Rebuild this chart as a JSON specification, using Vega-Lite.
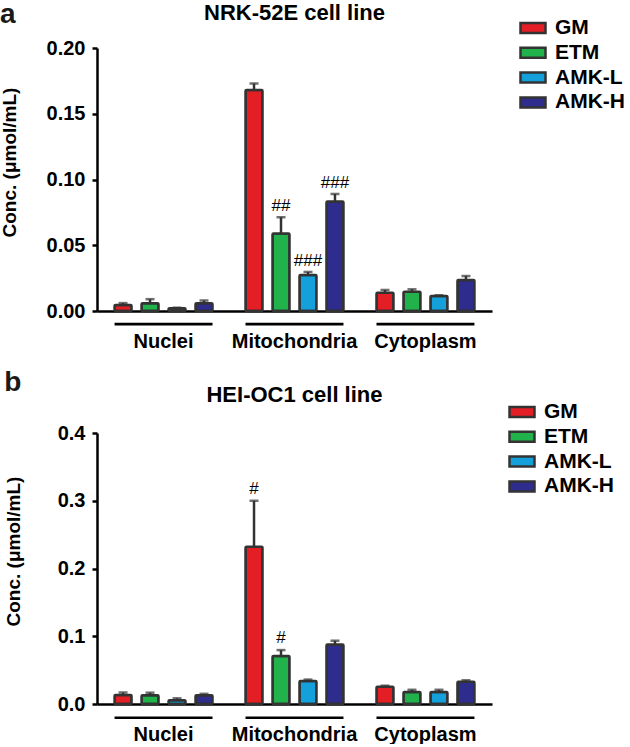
{
  "$schema": "https://vega.github.io/schema/vega-lite/v6.json",
  "padding": {"left": 0, "top": 0, "right": 0, "bottom": 0},
  "config": {"font": "Liberation Sans", "view": {"stroke": null}},
  "datasets": {
    "nrk": [
      {"group": "Nuclei", "treatment": "GM", "mean": 0.0045, "upper": 0.006, "sig": ""},
      {"group": "Nuclei", "treatment": "ETM", "mean": 0.0058, "upper": 0.009, "sig": ""},
      {"group": "Nuclei", "treatment": "AMK-L", "mean": 0.002, "upper": 0.0025, "sig": ""},
      {"group": "Nuclei", "treatment": "AMK-H", "mean": 0.0058, "upper": 0.008, "sig": ""},
      {"group": "Mitochondria", "treatment": "GM", "mean": 0.168, "upper": 0.173, "sig": ""},
      {"group": "Mitochondria", "treatment": "ETM", "mean": 0.059, "upper": 0.0713, "sig": "##"},
      {"group": "Mitochondria", "treatment": "AMK-L", "mean": 0.0274, "upper": 0.0297, "sig": "###"},
      {"group": "Mitochondria", "treatment": "AMK-H", "mean": 0.0832, "upper": 0.089, "sig": "###"},
      {"group": "Cytoplasm", "treatment": "GM", "mean": 0.0139, "upper": 0.016, "sig": ""},
      {"group": "Cytoplasm", "treatment": "ETM", "mean": 0.0147, "upper": 0.0165, "sig": ""},
      {"group": "Cytoplasm", "treatment": "AMK-L", "mean": 0.0114, "upper": 0.012, "sig": ""},
      {"group": "Cytoplasm", "treatment": "AMK-H", "mean": 0.0236, "upper": 0.0266, "sig": ""}
    ],
    "hei": [
      {"group": "Nuclei", "treatment": "GM", "mean": 0.0133, "upper": 0.017, "sig": ""},
      {"group": "Nuclei", "treatment": "ETM", "mean": 0.0128, "upper": 0.0167, "sig": ""},
      {"group": "Nuclei", "treatment": "AMK-L", "mean": 0.0054, "upper": 0.0084, "sig": ""},
      {"group": "Nuclei", "treatment": "AMK-H", "mean": 0.013, "upper": 0.015, "sig": ""},
      {"group": "Mitochondria", "treatment": "GM", "mean": 0.232, "upper": 0.3, "sig": "#"},
      {"group": "Mitochondria", "treatment": "ETM", "mean": 0.0708, "upper": 0.0796, "sig": "#"},
      {"group": "Mitochondria", "treatment": "AMK-L", "mean": 0.034, "upper": 0.036, "sig": ""},
      {"group": "Mitochondria", "treatment": "AMK-H", "mean": 0.088, "upper": 0.0934, "sig": ""},
      {"group": "Cytoplasm", "treatment": "GM", "mean": 0.0256, "upper": 0.027, "sig": ""},
      {"group": "Cytoplasm", "treatment": "ETM", "mean": 0.0177, "upper": 0.021, "sig": ""},
      {"group": "Cytoplasm", "treatment": "AMK-L", "mean": 0.0177, "upper": 0.021, "sig": ""},
      {"group": "Cytoplasm", "treatment": "AMK-H", "mean": 0.033, "upper": 0.035, "sig": ""}
    ],
    "groups": [{"group": "Nuclei"}, {"group": "Mitochondria"}, {"group": "Cytoplasm"}]
  },
  "resolve": {"scale": {"color": "independent", "x": "independent", "y": "independent"}, "legend": {"color": "independent"}},
  "spacing": 18,
  "vconcat": [
    {
      "title": {"text": "a", "anchor": "start", "frame": "bounds", "fontSize": 28, "fontWeight": "bold", "offset": -49, "baseline": "alphabetic", "color": "#1a1a1a"},
      "width": 395,
      "height": 263,
      "data": {"name": "nrk"},
      "encoding": {
        "x": {"field": "group", "type": "nominal", "sort": ["Nuclei", "Mitochondria", "Cytoplasm"],
          "scale": {"paddingInner": 0.252, "paddingOuter": 0.134},
          "axis": {"title": null, "ticks": false, "domainWidth": 2.5, "domainColor": "black", "labelFontSize": 20, "labelFontWeight": "bold", "labelColor": "black", "labelPadding": 20, "labelAngle": 0}}
      },
      "layer": [
        {
          "data": {"name": "groups"},
          "mark": {"type": "bar", "color": "black"},
          "encoding": {"y": {"datum": -0.009, "type": "quantitative"}, "y2": {"datum": -0.011}}
        },
        {
          "mark": {"type": "bar", "stroke": "#333333", "strokeWidth": 2.5, "cornerRadius": 1},
          "encoding": {
            "xOffset": {"field": "treatment", "type": "nominal", "sort": ["GM", "ETM", "AMK-L", "AMK-H"], "scale": {"paddingInner": 0.37, "paddingOuter": 0}},
            "y": {"field": "mean", "type": "quantitative", "scale": {"domain": [0, 0.2], "nice": false},
              "axis": {"title": "Conc. (μmol/mL)", "values": [0, 0.05, 0.1, 0.15, 0.2], "format": ".2f", "grid": false, "domainWidth": 2.5, "domainColor": "black", "tickWidth": 2.5, "tickColor": "black", "tickSize": 5, "labelFontSize": 20, "labelFontWeight": "bold", "labelColor": "black", "labelPadding": 7, "titleFontSize": 19, "titleFontWeight": "bold", "titleColor": "black", "titlePadding": 27, "titleY": 114}},
            "color": {"field": "treatment", "type": "nominal", "sort": ["GM", "ETM", "AMK-L", "AMK-H"],
              "scale": {"domain": ["GM", "ETM", "AMK-L", "AMK-H"], "range": ["#E31E24", "#21B24B", "#13A0DB", "#2E2C8C"]},
              "legend": {"orient": "none", "legendX": 422, "legendY": -34, "title": null, "symbolType": "M-1,-0.4H1V0.4H-1Z", "symbolSize": 625, "symbolStrokeColor": "#333333", "symbolStrokeWidth": 2.5, "labelFontSize": 21, "labelFontWeight": "bold", "labelColor": "black", "labelOffset": 8, "rowPadding": 0.8}}
          }
        },
        {
          "mark": {"type": "rule", "color": "#333333", "strokeWidth": 2.5},
          "encoding": {
            "xOffset": {"field": "treatment", "type": "nominal", "sort": ["GM", "ETM", "AMK-L", "AMK-H"]},
            "y": {"field": "mean", "type": "quantitative"},
            "y2": {"field": "upper"}
          }
        },
        {
          "mark": {"type": "tick", "color": "#333333", "size": 9, "thickness": 2.5, "orient": "horizontal"},
          "encoding": {
            "xOffset": {"field": "treatment", "type": "nominal", "sort": ["GM", "ETM", "AMK-L", "AMK-H"]},
            "y": {"field": "upper", "type": "quantitative"}
          }
        },
        {
          "transform": [{"filter": "datum.sig != ''"}],
          "mark": {"type": "text", "fontSize": 17, "color": "black", "baseline": "alphabetic", "dy": -6},
          "encoding": {
            "xOffset": {"field": "treatment", "type": "nominal", "sort": ["GM", "ETM", "AMK-L", "AMK-H"]},
            "y": {"field": "upper", "type": "quantitative"},
            "text": {"field": "sig"}
          }
        },
        {
          "data": {"values": [{"label": "NRK-52E cell line"}]},
          "mark": {"type": "text", "fontSize": 22, "fontWeight": "bold", "color": "black", "baseline": "alphabetic"},
          "encoding": {
            "x": {"datum": "Mitochondria"},
            "y": {"datum": 0.2213, "type": "quantitative"},
            "text": {"field": "label"}
          }
        }
      ]
    },
    {
      "title": {"text": "b", "anchor": "start", "frame": "bounds", "fontSize": 28, "fontWeight": "bold", "offset": -35, "baseline": "alphabetic", "color": "#1a1a1a"},
      "width": 395,
      "height": 271,
      "data": {"name": "hei"},
      "encoding": {
        "x": {"field": "group", "type": "nominal", "sort": ["Nuclei", "Mitochondria", "Cytoplasm"],
          "scale": {"paddingInner": 0.252, "paddingOuter": 0.134},
          "axis": {"title": null, "ticks": false, "domainWidth": 2.5, "domainColor": "black", "labelFontSize": 20, "labelFontWeight": "bold", "labelColor": "black", "labelPadding": 20, "labelAngle": 0}}
      },
      "layer": [
        {
          "data": {"name": "groups"},
          "mark": {"type": "bar", "color": "black"},
          "encoding": {"y": {"datum": -0.0185, "type": "quantitative"}, "y2": {"datum": -0.022}}
        },
        {
          "mark": {"type": "bar", "stroke": "#333333", "strokeWidth": 2.5, "cornerRadius": 1},
          "encoding": {
            "xOffset": {"field": "treatment", "type": "nominal", "sort": ["GM", "ETM", "AMK-L", "AMK-H"], "scale": {"paddingInner": 0.37, "paddingOuter": 0}},
            "y": {"field": "mean", "type": "quantitative", "scale": {"domain": [0, 0.4], "nice": false},
              "axis": {"title": "Conc. (μmol/mL)", "values": [0, 0.1, 0.2, 0.3, 0.4], "format": ".1f", "grid": false, "domainWidth": 2.5, "domainColor": "black", "tickWidth": 2.5, "tickColor": "black", "tickSize": 5, "labelFontSize": 20, "labelFontWeight": "bold", "labelColor": "black", "labelPadding": 7, "titleFontSize": 19, "titleFontWeight": "bold", "titleColor": "black", "titlePadding": 34, "titleY": 118}},
            "color": {"field": "treatment", "type": "nominal", "sort": ["GM", "ETM", "AMK-L", "AMK-H"],
              "scale": {"domain": ["GM", "ETM", "AMK-L", "AMK-H"], "range": ["#E31E24", "#21B24B", "#13A0DB", "#2E2C8C"]},
              "legend": {"orient": "none", "legendX": 411, "legendY": -35, "title": null, "symbolType": "M-1,-0.4H1V0.4H-1Z", "symbolSize": 625, "symbolStrokeColor": "#333333", "symbolStrokeWidth": 2.5, "labelFontSize": 21, "labelFontWeight": "bold", "labelColor": "black", "labelOffset": 8, "rowPadding": 0.8}}
          }
        },
        {
          "mark": {"type": "rule", "color": "#333333", "strokeWidth": 2.5},
          "encoding": {
            "xOffset": {"field": "treatment", "type": "nominal", "sort": ["GM", "ETM", "AMK-L", "AMK-H"]},
            "y": {"field": "mean", "type": "quantitative"},
            "y2": {"field": "upper"}
          }
        },
        {
          "mark": {"type": "tick", "color": "#333333", "size": 9, "thickness": 2.5, "orient": "horizontal"},
          "encoding": {
            "xOffset": {"field": "treatment", "type": "nominal", "sort": ["GM", "ETM", "AMK-L", "AMK-H"]},
            "y": {"field": "upper", "type": "quantitative"}
          }
        },
        {
          "transform": [{"filter": "datum.sig != ''"}],
          "mark": {"type": "text", "fontSize": 17, "color": "black", "baseline": "alphabetic", "dy": -7},
          "encoding": {
            "xOffset": {"field": "treatment", "type": "nominal", "sort": ["GM", "ETM", "AMK-L", "AMK-H"]},
            "y": {"field": "upper", "type": "quantitative"},
            "text": {"field": "sig"}
          }
        },
        {
          "data": {"values": [{"label": "HEI-OC1 cell line"}]},
          "mark": {"type": "text", "fontSize": 22, "fontWeight": "bold", "color": "black", "baseline": "alphabetic"},
          "encoding": {
            "x": {"datum": "Mitochondria"},
            "y": {"datum": 0.4457, "type": "quantitative"},
            "text": {"field": "label"}
          }
        }
      ]
    }
  ]
}
